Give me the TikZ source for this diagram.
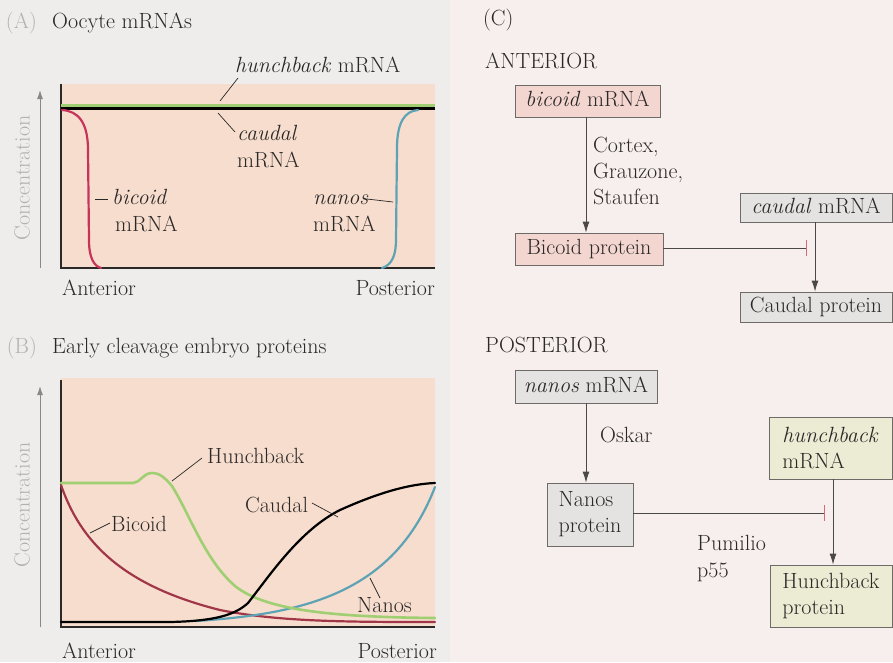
\documentclass[tikz,border=0pt]{standalone}
\usetikzlibrary{arrows.meta,calc}
\definecolor{ink}{HTML}{2B2828}
\definecolor{bgL}{HTML}{EFEDEC}
\definecolor{bgR}{HTML}{F7EFED}
\definecolor{peach}{HTML}{F7DDCD}
\definecolor{pinkbox}{HTML}{F3D6D0}
\definecolor{greybox}{HTML}{E5E3E2}
\definecolor{greenbox}{HTML}{ECEBD3}
\definecolor{boxline}{HTML}{6E6A68}
\definecolor{hbgreen}{HTML}{9FCF72}
\definecolor{bcdred}{HTML}{C8335C}
\definecolor{bcdredB}{HTML}{A23649}
\definecolor{nosblue}{HTML}{5DA3B5}
\definecolor{axisgrey}{HTML}{8A8787}
\definecolor{lblgrey}{HTML}{B5B0B0}
\definecolor{barred}{HTML}{D86A78}
\begin{document}
\begin{tikzpicture}[x=1pt,y=-1pt,
  txt/.style={font=\fontsize{22}{26}\selectfont, text=ink, inner sep=0pt},
  conc/.style={font=\fontsize{22}{26}\selectfont, text=lblgrey, inner sep=0pt, rotate=90},
  box/.style={txt, draw=boxline, line width=0.8pt},
  box1/.style={box, text height=15pt, text depth=4pt},
  box2/.style={box, align=left},
  arr/.style={draw=ink!85, line width=0.9pt, -{Latex[length=11pt,width=7pt]}},
  inh/.style={draw=ink!85, line width=0.9pt, -{Bar[width=16pt,line width=1.3pt,color=barred]}},
  ldr/.style={draw=ink, line width=0.7pt},
  axisline/.style={draw=ink, line width=1.2pt},
  concarrow/.style={draw=axisgrey, line width=1pt, -{Latex[length=9pt,width=6pt]}},
  curve/.style={line width=2.2pt, line cap=round}
]
\useasboundingbox (0,0) rectangle (893,662);
% backgrounds
\fill[bgL] (0,0) rectangle (450,662);
\fill[bgR] (450,0) rectangle (893,662);

% ================= Panel A =================
\node[txt, text=lblgrey, anchor=base east] (labA) at (37,28) {(A)};
\node[txt, anchor=base west] (titA) at (52,28) {Oocyte mRNAs};
\fill[peach] (61,84) rectangle (435,268);
\draw[axisline] (61,84) -- (61,268) -- (435,268);
\coordinate (cAbot) at (40,268);
\coordinate (cAtop) at (40,90);
\draw[concarrow] (cAbot) -- (cAtop);
\node[conc] (concA) at (22,178) {Concentration};
% hunchback and caudal lines
\draw[hbgreen, line width=3pt] (61,105) -- (435,105);
\draw[black, line width=2.5pt] (61,108.5) -- (435,108.5);
% bicoid mRNA
\draw[bcdred, curve] (62,110) .. controls (78,111) and (88,122) .. (88,150) -- (89,240) .. controls (89,258) and (94,266) .. (101,268);
% nanos mRNA
\draw[nosblue, curve] (382,268) .. controls (392,265) and (396,255) .. (396,240) -- (397,148) .. controls (397,122) and (405,111) .. (418,110);
% labels
\node[txt, anchor=base west] (hbA) at (235,72) {\textit{hunchback} mRNA};
\coordinate (hbAa) at (238,78); \coordinate (hbAb) at (220,101);
\draw[ldr] (hbAa) -- (hbAb);
\node[txt, anchor=base west] (cdA1) at (237,140) {\textit{caudal}};
\node[txt, anchor=base west] (cdA2) at (237,167) {mRNA};
\coordinate (cdAa) at (218,113); \coordinate (cdAb) at (235,132);
\draw[ldr] (cdAa) -- (cdAb);
\node[txt, anchor=base west] (bcA1) at (112,204) {\textit{bicoid}};
\node[txt, anchor=base west] (bcA2) at (115,231) {mRNA};
\coordinate (bcAa) at (95,199); \coordinate (bcAb) at (108,199);
\draw[ldr] (bcAa) -- (bcAb);
\node[txt, anchor=base west] (nsA1) at (313,204) {\textit{nanos}};
\node[txt, anchor=base west] (nsA2) at (313,231) {mRNA};
\coordinate (nsAa) at (367,199); \coordinate (nsAb) at (393,202);
\draw[ldr] (nsAa) -- (nsAb);
\node[txt, anchor=base west] (antA) at (62,295) {Anterior};
\node[txt, anchor=base east] (posA) at (435,295) {Posterior};

% ================= Panel B =================
\node[txt, text=lblgrey, anchor=base east] (labB) at (37,353) {(B)};
\node[txt, anchor=base west] (titB) at (52,353) {Early cleavage embryo proteins};
\fill[peach] (61,378) rectangle (435,627);
\draw[axisline] (61,380) -- (61,627) -- (435,627);
\coordinate (cBbot) at (40,627);
\coordinate (cBtop) at (40,386);
\draw[concarrow] (cBbot) -- (cBtop);
\node[conc] (concB) at (22,505) {Concentration};
% curves
\draw[bcdredB, curve] (61,485) .. controls (80,540) and (120,585) .. (220,610) .. controls (280,622) and (350,622) .. (435,622);
\draw[nosblue, curve] (195,621) .. controls (310,614) and (395,590) .. (435,487);
\draw[hbgreen, curve, line width=2.6pt] (61,483) -- (133,483) .. controls (140,483) and (143,473) .. (152,473) .. controls (160,473) and (165,478) .. (172,486) .. controls (190,515) and (205,560) .. (235,586) .. controls (265,610) and (330,617) .. (435,618);
\draw[black, curve] (61,622) -- (170,622) .. controls (215,621) and (235,615) .. (248,603) .. controls (270,575) and (300,530) .. (340,510) .. controls (380,492) and (410,484) .. (435,483);
% labels
\node[txt, anchor=base west] (hbB) at (207,463) {Hunchback};
\coordinate (hbBa) at (202,458); \coordinate (hbBb) at (172,481);
\draw[ldr] (hbBa) -- (hbBb);
\node[txt, anchor=base west] (cdB) at (245,512) {Caudal};
\coordinate (cdBa) at (312,503); \coordinate (cdBb) at (338,517);
\draw[ldr] (cdBa) -- (cdBb);
\node[txt, anchor=base west] (bcB) at (111,531) {Bicoid};
\coordinate (bcBa) at (110,523); \coordinate (bcBb) at (90,533);
\draw[ldr] (bcBa) -- (bcBb);
\node[txt, anchor=base west] (nsB) at (357,612) {Nanos};
\coordinate (nsBa) at (370,578); \coordinate (nsBb) at (380,598);
\draw[ldr] (nsBa) -- (nsBb);
\node[txt, anchor=base west] (antB) at (62,658) {Anterior};
\node[txt, anchor=base east] (posB) at (437,658) {Posterior};

% ================= Panel C =================
\node[txt, anchor=base west] (labC) at (483,25) {(C)};
\node[txt, anchor=base west] (anter) at (485,68) {ANTERIOR};
\node[box1, fill=pinkbox, minimum width=145pt, minimum height=32pt] (bm) at (587.5,101) {\textit{bicoid} mRNA};
\node[box1, fill=pinkbox, minimum width=148pt, minimum height=32pt] (bp) at (589,249) {Bicoid protein};
\draw[arr] ($(bm.south)+(-1.5,0)$) -- ($(bm.south |- bp.north)+(-1.5,0)$);
\node[txt, anchor=base west] (ctx1) at (593,152) {Cortex,};
\node[txt, anchor=base west] (ctx2) at (593,178) {Grauzone,};
\node[txt, anchor=base west] (ctx3) at (593,204) {Staufen};
\node[box1, fill=greybox, minimum width=152pt, minimum height=29pt] (cm) at (816,207.5) {\textit{caudal} mRNA};
\node[box1, fill=greybox, minimum width=152pt, minimum height=30pt] (cp) at (816,307) {Caudal protein};
\draw[arr] ($(cm.south)+(-1,0)$) -- ($(cp.north)+(-1,0)$);
\coordinate (inhC) at (807,248);
\draw[inh] (bp.east |- inhC) -- (inhC);

\node[txt, anchor=base west] (poster) at (485,352) {POSTERIOR};
\node[box1, fill=greybox, minimum width=142pt, minimum height=33pt] (nm) at (586,386.5) {\textit{nanos} mRNA};
\node[box2, fill=greybox, minimum width=86pt, minimum height=63pt] (np) at (590,514.5) {Nanos\\protein};
\draw[arr] (nm.south) -- (nm.south |- np.north);
\node[txt, anchor=base west] (osk) at (600,442) {Oskar};
\node[box2, fill=greenbox, minimum width=123pt, minimum height=62pt] (hm) at (830.5,448) {\textit{hunchback}\\mRNA};
\node[box2, fill=greenbox, minimum width=122pt, minimum height=62pt] (hp) at (831,596) {Hunchback\\protein};
\draw[arr] ($(hm.south)+(2.5,0)$) -- ($(hm.south |- hp.north)+(2.5,0)$);
\coordinate (inhP) at (825,513);
\draw[inh] (np.east |- inhP) -- (inhP);
\node[txt, anchor=base west] (pum1) at (697,550) {Pumilio};
\node[txt, anchor=base west] (pum2) at (697,577) {p55};
\end{tikzpicture}
\end{document}
